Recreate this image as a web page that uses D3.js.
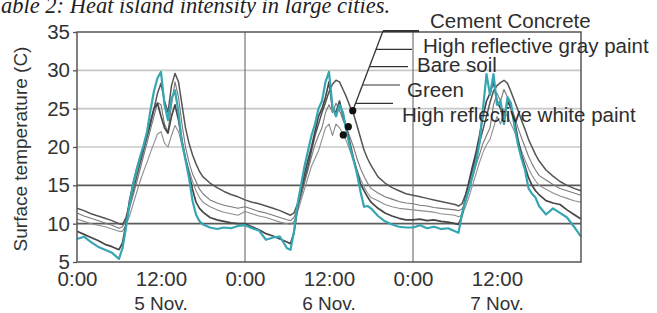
<!DOCTYPE html>
<html>
<head>
<meta charset="utf-8">
<script src="https://cdn.jsdelivr.net/npm/d3@7"></script>
<style>
  html, body { margin: 0; padding: 0; background: #fff; }
  svg { display: block; }
  text { font-family: "Liberation Sans", Arial, sans-serif; fill: #333; }
</style>
</head>
<body>
<svg id="chart" width="657" height="313"></svg>
<script>
// hours since 0:00 on 5 Nov
const hours = [
  0, 1, 2, 3, 4, 5, 6, 6.5, 7, 7.5, 8, 8.5, 9, 9.5, 10, 10.5, 11, 11.5, 12, 12.5, 13, 13.5, 14, 14.5, 15, 15.5, 16, 16.5, 17, 17.5, 18, 19, 20, 21, 22, 23,
  24, 25, 26, 27, 28, 29, 30, 30.5, 31, 31.5, 32, 32.5, 33, 33.5, 34, 34.5, 35, 35.5, 36, 36.5, 37, 37.5, 38, 38.5, 39, 39.5, 40, 40.5, 41, 41.5, 42, 43, 44, 45, 46, 47,
  48, 49, 50, 51, 52, 53, 54, 54.5, 55, 55.5, 56, 56.5, 57, 57.5, 58, 58.5, 59, 59.5, 60, 60.5, 61, 61.5, 62, 62.5, 63, 63.5, 64, 64.5, 65, 65.5, 66, 67, 68, 69, 70, 71,
  72
];

const cementConcrete = [
  12.0, 11.7, 11.3, 11.0, 10.7, 10.4, 10.0, 9.9, 10.8, 12.5, 14.2, 16.0, 17.8, 19.5, 21.3, 23.0, 25.0, 27.0, 28.3, 26.0, 24.5, 28.0, 29.6, 28.5, 25.5, 22.5, 20.5, 19.0, 17.8, 16.8, 16.1, 15.3, 14.7, 14.2, 13.8, 13.5,
  13.1, 12.8, 12.6, 12.3, 12.0, 11.7, 11.3, 11.1, 11.4, 12.6, 14.0, 15.8, 17.5, 19.5, 21.5, 23.0, 24.5, 25.8, 27.2, 28.2, 28.7, 28.5, 27.5, 26.5, 25.3, 24.3, 22.8, 21.2, 19.6, 18.5, 17.6, 16.1, 15.3, 14.7, 14.3, 13.9,
  13.7, 13.5, 13.3, 13.1, 12.9, 12.7, 12.5, 12.3, 12.6, 13.8, 15.3, 17.0, 18.8, 20.5, 22.3, 24.0, 25.8, 27.3, 28.0, 28.4, 28.7, 28.3, 27.2, 26.0, 24.8, 23.5, 22.3, 21.0, 20.0, 19.0, 18.2, 17.0, 16.2, 15.5, 15.0, 14.6,
  14.3
];
const grayPaint = [
  11.4, 11.0, 10.7, 10.4, 10.1, 9.8, 9.4, 9.6, 10.5, 12.0, 13.6, 15.3, 17.0, 18.8, 20.5, 22.3, 24.0, 25.8, 25.5, 23.0, 22.0, 25.5, 28.5, 26.5, 23.0, 20.0, 18.0, 16.5, 15.5, 14.5, 13.9, 13.1, 12.7, 12.4, 12.2, 12.0,
  12.2, 11.9, 11.6, 11.4, 11.1, 10.8, 10.5, 10.4, 10.8, 12.0, 13.5, 15.3, 17.0, 18.7, 20.3, 21.5, 22.5, 24.5, 25.5, 24.5, 25.7, 24.8, 23.5, 22.5, 21.3, 20.0, 18.5, 17.2, 16.2, 15.3, 14.6, 14.0, 13.5, 13.2, 12.9, 12.7,
  12.6, 12.4, 12.3, 12.1, 12.0, 11.9, 11.8, 11.7, 11.9, 12.8, 14.3, 16.0, 17.6, 19.0, 20.5, 21.5, 22.5, 25.5, 27.0, 26.0, 27.5, 26.5, 25.3, 24.0, 22.5, 21.2, 20.0, 18.8, 17.8, 17.0, 16.3, 15.7, 15.1, 14.6, 14.3, 14.0,
  13.7
];
const bareSoil = [
  9.0, 8.6, 8.2, 7.8, 7.3, 7.0, 6.6, 7.5, 10.0, 13.0, 15.2, 17.0, 18.5, 20.0, 21.5, 23.3, 25.0, 25.7, 24.0, 22.5, 21.8, 24.0, 25.5, 23.5, 20.8, 18.5, 16.5, 14.5, 12.8, 12.0, 11.5, 10.8, 10.5, 10.3, 10.1, 10.0,
  10.0, 9.6, 9.2, 8.7, 8.4, 8.0, 7.6, 7.4, 8.8, 12.0, 14.5, 16.5, 18.3, 20.0, 22.0, 24.0, 25.0, 26.5, 28.5, 25.0, 24.5, 26.0, 24.0, 22.5, 20.5, 18.5, 16.8, 15.2, 14.3, 13.5, 12.8, 12.0, 11.4, 11.0, 10.7, 10.5,
  10.5, 10.6, 10.4, 10.5, 10.3, 10.2, 10.0, 9.9, 11.0, 13.5, 15.5, 17.5, 19.3, 21.5, 24.0, 26.0, 27.0, 28.5, 26.0, 25.0, 24.0, 26.0, 25.0, 23.5, 21.0, 19.0, 17.5, 16.0, 15.0, 14.3, 13.8, 13.0, 12.7, 12.5, 11.8, 11.2,
  10.6
];
const green = [
  10.6, 10.3, 10.0, 9.8, 9.6, 9.3, 9.0, 9.0, 9.8, 11.0, 12.5, 14.0, 15.5, 16.8, 18.0, 19.3, 20.5, 21.7, 22.0, 20.5, 20.0, 21.5, 22.8, 22.0, 20.3, 18.5, 17.0, 15.5, 14.3, 13.4, 12.8, 12.2, 11.8, 11.5, 11.3, 11.1,
  11.6, 11.3, 11.0, 10.8, 10.5, 10.2, 10.0, 9.9, 10.3, 11.5, 13.0, 14.5, 16.0, 17.5, 18.5, 19.5, 21.0, 22.5, 23.0, 21.5, 23.0, 22.5, 21.7, 20.7, 19.5, 18.2, 17.0, 15.8, 14.8, 14.0, 13.4, 13.0, 12.5, 12.2, 12.0, 11.9,
  11.8, 11.7, 11.6, 11.5, 11.3, 11.2, 11.1, 10.9, 11.1, 12.2, 13.5, 15.0, 16.5, 18.0, 19.3, 20.3, 21.0, 22.5, 24.0, 23.0, 24.5, 24.0, 23.0, 22.0, 20.7, 19.5, 18.3, 17.2, 16.3, 15.6, 15.0, 14.5, 14.0, 13.6, 13.3, 13.0,
  12.8
];
const whitePaint = [
  8.0, 8.3, 7.6, 7.0, 6.6, 6.2, 5.4, 6.8, 9.5, 12.5, 15.0, 17.0, 18.7, 20.2, 22.0, 24.8, 27.3, 29.0, 29.8, 25.5, 23.5, 26.3, 27.4, 24.5, 20.5, 18.3, 16.0, 13.0, 11.2, 10.3, 9.9, 9.5, 9.3, 9.5, 9.4, 9.7,
  9.8, 9.4, 9.1, 7.9, 8.2, 8.3, 6.8, 6.6, 9.0, 12.5, 15.0, 17.5, 19.5, 21.5, 23.0, 25.0, 26.0, 28.5, 29.8, 25.2, 24.0, 25.5, 24.5, 22.0, 20.0, 18.3, 16.5, 14.2, 12.2, 12.3, 12.0, 11.0, 10.3, 9.9, 9.6, 9.5,
  9.5, 9.8, 9.4, 9.6, 9.3, 9.4, 9.0, 8.8, 11.3, 13.0, 14.5, 16.2, 18.0, 20.5, 25.0, 29.5, 26.8, 29.5, 25.5, 26.0, 23.0, 26.5, 25.7, 22.7, 20.3, 18.5, 17.0, 14.6, 13.9, 13.4, 12.3, 11.2, 12.0, 11.4, 10.8, 9.6,
  8.3
];

const seriesNames = ['Cement Concrete', 'High reflective gray paint', 'Bare soil', 'Green', 'High reflective white paint'];
const yTicks = [5, 10, 15, 20, 25, 30, 35];
const xTicks = [0, 12, 24, 36, 48, 60];
const xTickLabels = ['0:00', '12:00', '0:00', '12:00', '0:00', '12:00'];
const dayTicks = [12, 36, 60];
const dayLabels = ['5 Nov.', '6 Nov.', '7 Nov.'];
const dayLines = [24, 48];
// legend pointer marks on the 6 Nov. afternoon curves [hour, temp]
const pointerDots = [[39.39, 24.74], [38.76, 22.65], [38.04, 21.57]];

const svg = d3.select('#chart');
const x = d3.scaleLinear().domain([0, 72]).range([77, 581]);
const y = d3.scaleLinear().domain([5, 35]).range([262, 32]);

// caption fragment cut off at the top of the picture
svg.append('text').attr('x', 1).attr('y', 13)
  .style('font-family', '"Liberation Serif", "Times New Roman", serif')
  .style('font-style', 'italic').style('font-size', '22.5px').style('fill', '#222')
  .text('able 2: Heat island intensity in large cities.');

// grid
const grid = svg.append('g').attr('class', 'grid');
grid.selectAll('line.h').data(yTicks.filter(t => t > 5 && t < 35)).enter().append('line')
  .attr('x1', x(0)).attr('x2', x(72))
  .attr('y1', d => y(d)).attr('y2', d => y(d))
  .attr('stroke', d => d >= 20 ? '#c8c8c8' : '#5a5a5a')
  .attr('stroke-width', 1.6);
grid.selectAll('line.v').data(dayLines).enter().append('line')
  .attr('x1', d => x(d)).attr('x2', d => x(d))
  .attr('y1', y(35)).attr('y2', y(5))
  .attr('stroke', '#777').attr('stroke-width', 1.2);

// series
const line = d3.line().x((d, i) => x(hours[i])).y(d => y(d));
const series = [
  { name: seriesNames[3], values: green, color: '#8e8e8e', width: 1.1 },
  { name: seriesNames[1], values: grayPaint, color: '#7a7a7a', width: 1.1 },
  { name: seriesNames[0], values: cementConcrete, color: '#555', width: 1.5 },
  { name: seriesNames[2], values: bareSoil, color: '#474747', width: 1.7 },
  { name: seriesNames[4], values: whitePaint, color: '#35a6b2', width: 2.2 }
];
svg.append('g').selectAll('path').data(series).enter().append('path')
  .attr('d', d => line(d.values))
  .attr('fill', 'none')
  .attr('stroke', d => d.color)
  .attr('stroke-width', d => d.width)
  .attr('stroke-linejoin', 'round');

// frame
svg.append('rect')
  .attr('x', x(0)).attr('y', y(35))
  .attr('width', x(72) - x(0)).attr('height', y(5) - y(35))
  .attr('fill', 'none').attr('stroke', '#555').attr('stroke-width', 1.5);

// axes
const yAxis = svg.append('g').attr('transform', `translate(${x(0)},0)`)
  .call(d3.axisLeft(y).tickValues(yTicks).tickSize(4).tickPadding(3));
yAxis.select('.domain').remove();
yAxis.selectAll('line').attr('stroke', '#555').attr('stroke-width', 1.3);
yAxis.selectAll('text').style('font-size', '20.5px').style('fill', '#333')
  .style('font-family', '"Liberation Sans", Arial, sans-serif');

const xAxis = svg.append('g').attr('transform', `translate(0,${y(5)})`)
  .call(d3.axisBottom(x).tickValues(xTicks).tickSize(0).tickPadding(9)
    .tickFormat((d, i) => xTickLabels[i]));
xAxis.select('.domain').remove();
xAxis.selectAll('text').style('font-size', '20.5px').style('fill', '#333')
  .style('font-family', '"Liberation Sans", Arial, sans-serif');

svg.append('g').selectAll('text').data(dayTicks).enter().append('text')
  .attr('x', d => x(d)).attr('y', 310).attr('text-anchor', 'middle')
  .style('font-size', '19px')
  .text((d, i) => dayLabels[i]);

svg.append('text')
  .attr('transform', `translate(27,${(y(5) + y(35)) / 2 + 2}) rotate(-90)`)
  .attr('text-anchor', 'middle').style('font-size', '19px')
  .text('Surface temperature (C)');

// legend with leader lines
const legend = svg.append('g').attr('class', 'legend');
const leaderTop = [383, 31], leaderEnd = [x(pointerDots[0][0]), y(pointerDots[0][1])];
legend.append('line')
  .attr('x1', leaderTop[0]).attr('y1', leaderTop[1])
  .attr('x2', leaderEnd[0]).attr('y2', leaderEnd[1])
  .attr('stroke', '#333').attr('stroke-width', 1.3);
const legendRows = [
  { y: 31, end: 419, textX: 430, textY: 28 },
  { y: 49.3, end: 412, textX: 423, textY: 53 },
  { y: 66.7, end: 408, textX: 417, textY: 72 },
  { y: 85, end: 400, textX: 407, textY: 97 },
  { y: 103.3, end: 393, textX: 402, textY: 122 }
];
legendRows.forEach((r, i) => {
  const t = (r.y - leaderTop[1]) / (leaderEnd[1] - leaderTop[1]);
  const sx = leaderTop[0] + t * (leaderEnd[0] - leaderTop[0]);
  legend.append('line')
    .attr('x1', sx).attr('y1', r.y).attr('x2', r.end).attr('y2', r.y)
    .attr('stroke', '#333').attr('stroke-width', i === 0 ? 1.8 : 1.2);
  legend.append('text')
    .attr('x', r.textX).attr('y', r.textY)
    .style('font-size', '20.5px').style('fill', '#2e2e2e')
    .text(seriesNames[i]);
});
legend.selectAll('circle').data(pointerDots).enter().append('circle')
  .attr('cx', d => x(d[0])).attr('cy', d => y(d[1])).attr('r', 3.6)
  .attr('fill', '#111');
</script>
</body>
</html>
